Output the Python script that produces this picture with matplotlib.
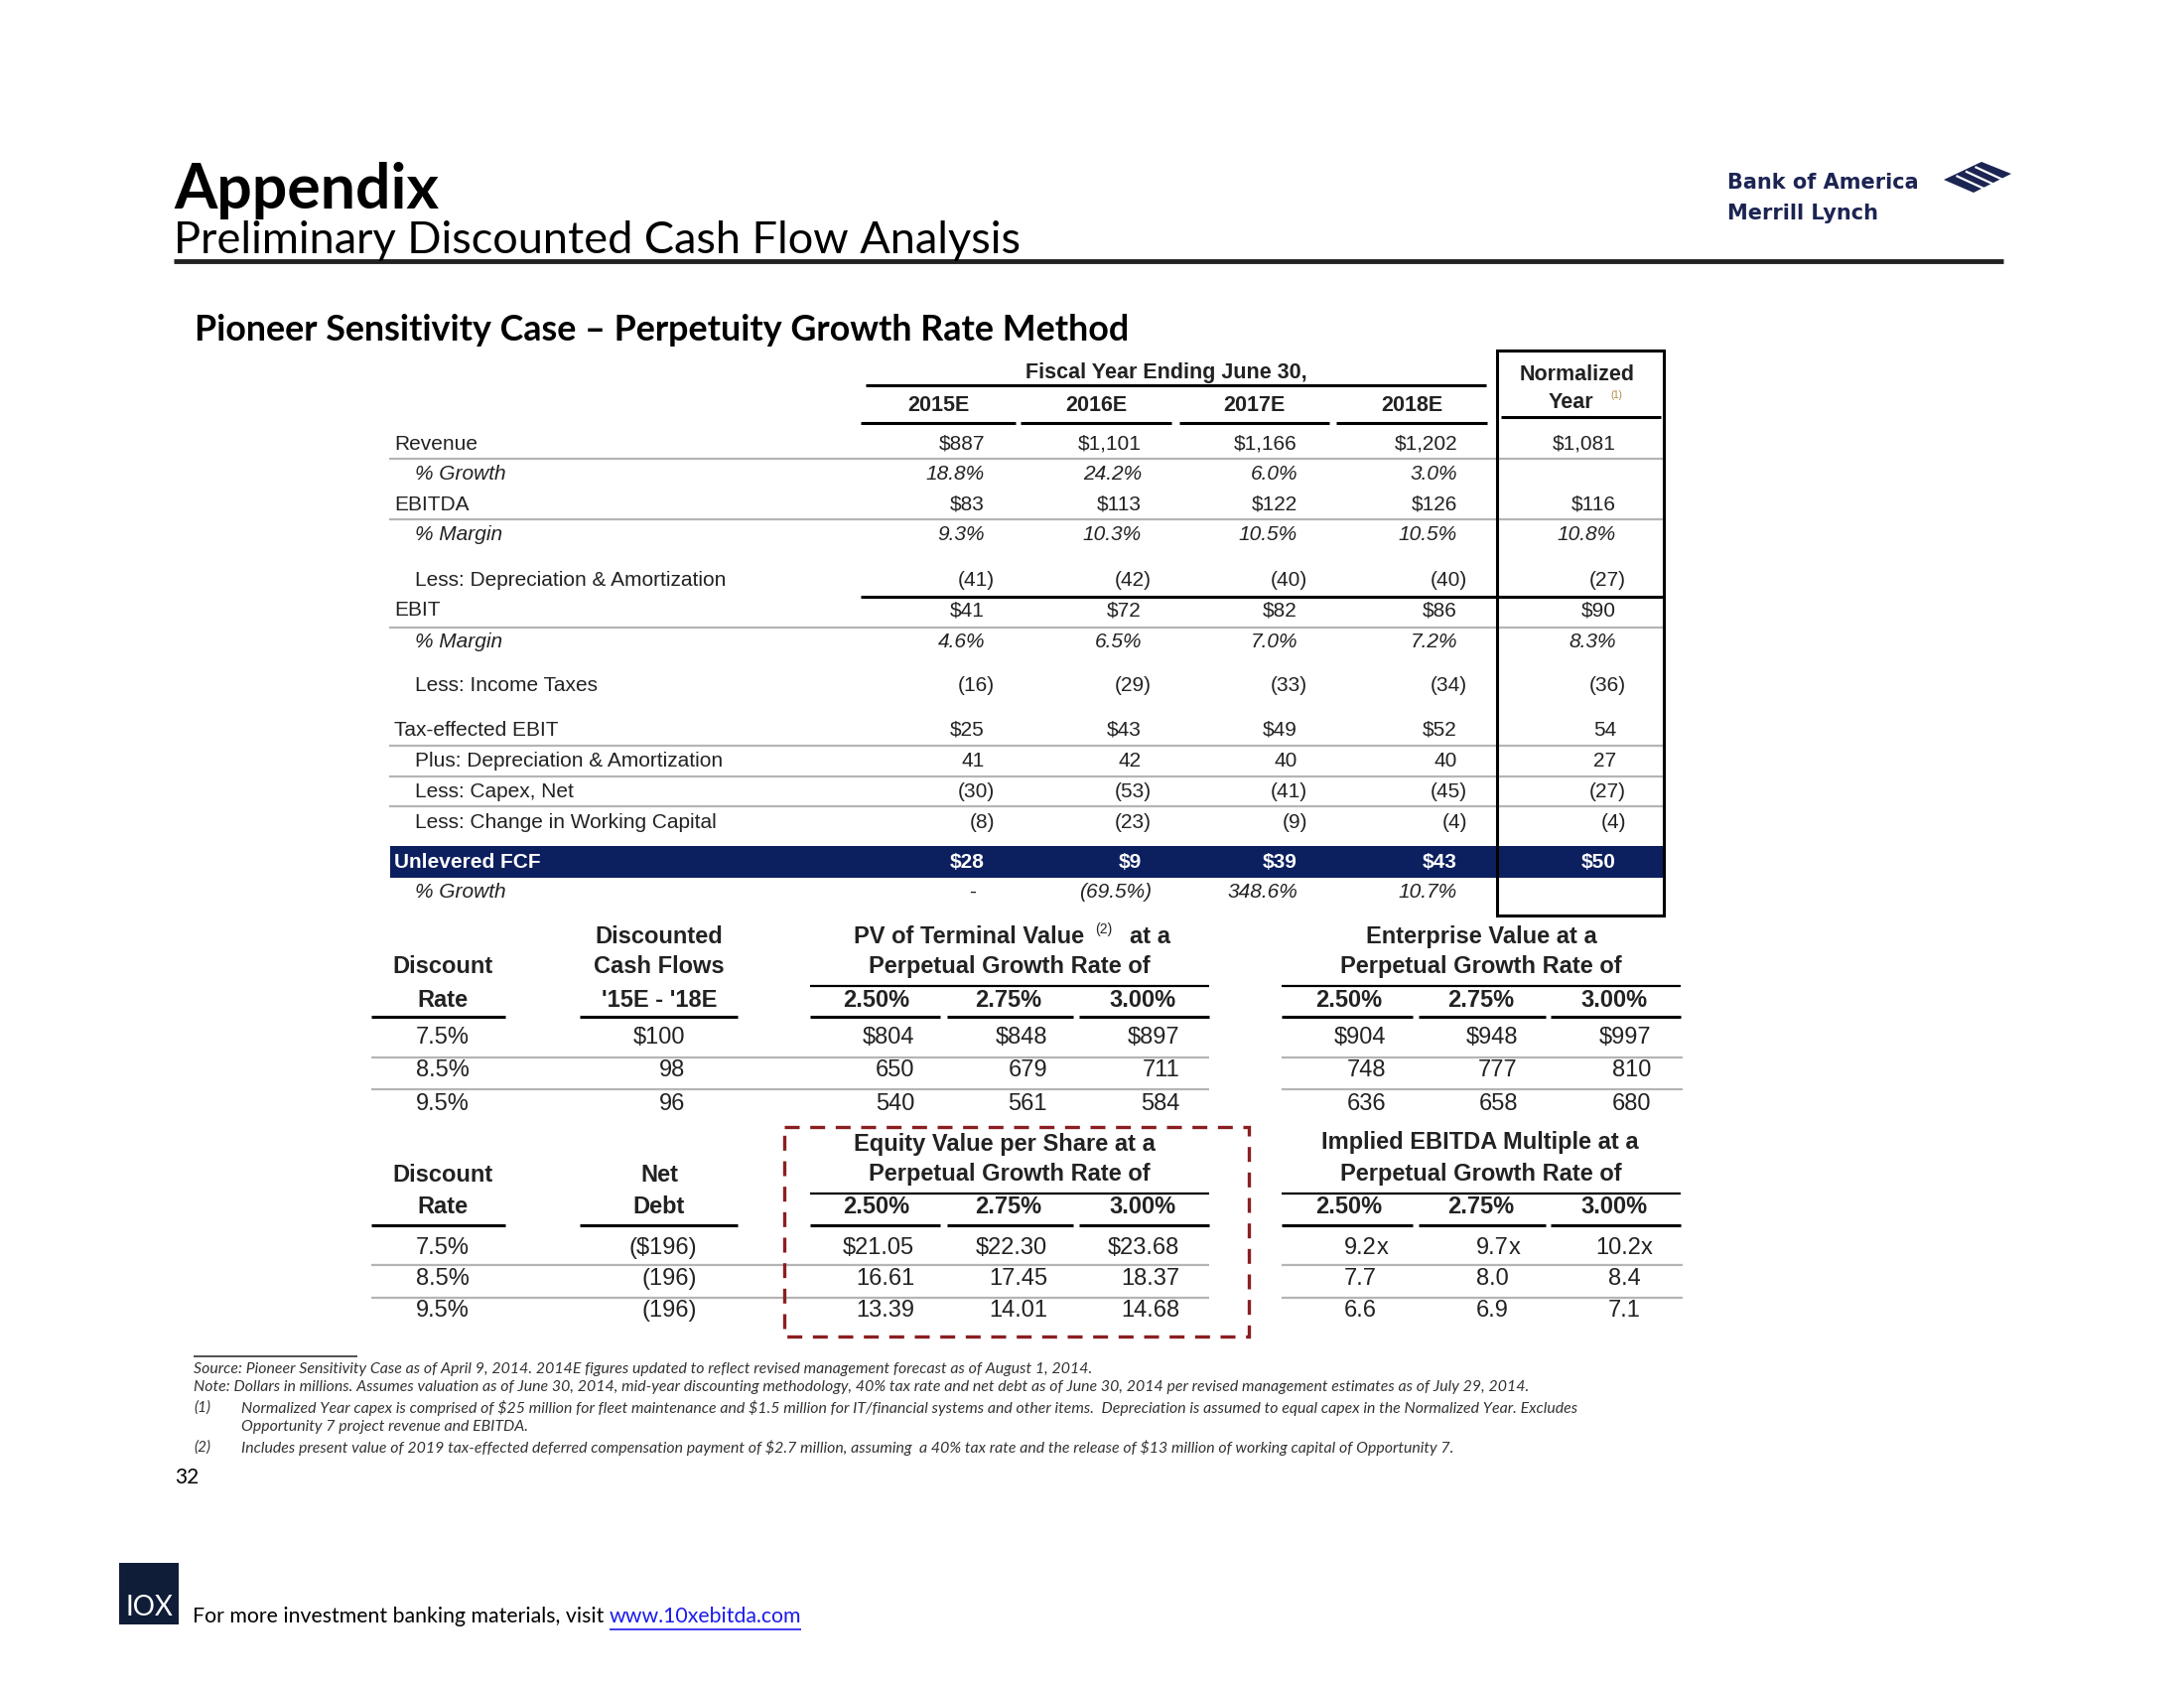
import matplotlib
matplotlib.use("Agg")
import matplotlib.pyplot as plt
from matplotlib.patches import Rectangle, Polygon

plt.rcParams["text.parse_math"] = False

# ---- data ----
years = ["2015E", "2016E", "2017E", "2018E"]
row_labels = ["Revenue", "% Growth", "EBITDA", "% Margin",
              "Less: Depreciation & Amortization", "EBIT", "% Margin",
              "Less: Income Taxes", "Tax-effected EBIT",
              "Plus: Depreciation & Amortization", "Less: Capex, Net",
              "Less: Change in Working Capital", "Unlevered FCF", "% Growth"]
fy2015 = ["$887", "18.8%", "$83", "9.3%", "(41)", "$41", "4.6%", "(16)",
          "$25", "41", "(30)", "(8)", "$28", "-"]
fy2016 = ["$1,101", "24.2%", "$113", "10.3%", "(42)", "$72", "6.5%", "(29)",
          "$43", "42", "(53)", "(23)", "$9", "(69.5%)"]
fy2017 = ["$1,166", "6.0%", "$122", "10.5%", "(40)", "$82", "7.0%", "(33)",
          "$49", "40", "(41)", "(9)", "$39", "348.6%"]
fy2018 = ["$1,202", "3.0%", "$126", "10.5%", "(40)", "$86", "7.2%", "(34)",
          "$52", "40", "(45)", "(4)", "$43", "10.7%"]
normalized = ["$1,081", "", "$116", "10.8%", "(27)", "$90", "8.3%", "(36)",
              "54", "27", "(27)", "(4)", "$50", ""]

discount_rates = ["7.5%", "8.5%", "9.5%"]
growth_rates = ["2.50%", "2.75%", "3.00%"]
dcf_15_18 = ["$100", "98", "96"]
net_debt = ["($196)", "(196)", "(196)"]
pv_terminal = [["$804", "$848", "$897"],
               ["650", "679", "711"],
               ["540", "561", "584"]]
equity_per_share = [["$21.05", "$22.30", "$23.68"],
                    ["16.61", "17.45", "18.37"],
                    ["13.39", "14.01", "14.68"]]
enterprise_value = [["$904", "$948", "$997"],
                    ["748", "777", "810"],
                    ["636", "658", "680"]]
ebitda_multiple = [["9.2x", "9.7x", "10.2x"],
                   ["7.7", "8.0", "8.4"],
                   ["6.6", "6.9", "7.1"]]

footnotes = [
    ("", "Source: Pioneer Sensitivity Case as of April 9, 2014. 2014E figures updated to reflect revised management forecast as of August 1, 2014."),
    ("", "Note: Dollars in millions. Assumes valuation as of June 30, 2014, mid-year discounting methodology, 40% tax rate and net debt as of June 30, 2014 per revised management estimates as of July 29, 2014."),
    ("(1)", "Normalized Year capex is comprised of $25 million for fleet maintenance and $1.5 million for IT/financial systems and other items.  Depreciation is assumed to equal capex in the Normalized Year. Excludes"),
    (" ", "Opportunity 7 project revenue and EBITDA."),
    ("(2)", "Includes present value of 2019 tax-effected deferred compensation payment of $2.7 million, assuming  a 40% tax rate and the release of $13 million of working capital of Opportunity 7."),
]

# ---- canvas in slide pixels ----
fig = plt.figure(figsize=(22, 17), dpi=100)
ax = fig.add_axes([0, 0, 1, 1])
ax.set_xlim(0, 2200)
ax.set_ylim(1700, 0)
ax.axis("off")

TF = "Liberation Sans"
TITLEF = "Lato"
INK = "#222222"
NAVY = "#0c1f5e"
BOFA = "#1c2453"


def hline(x0, x1, y, color="black", lw=2.2):
    ax.plot([x0, x1], [y, y], color=color, lw=lw, solid_capstyle="butt")


def num(x, y, s, size=15, **kw):
    # positive values sit one ")" to the left, like accounting format
    if s and not s.endswith(")"):
        x -= 10
    ax.text(x, y, s, ha="right", va="center", fontsize=size, family=TF,
            color=kw.pop("color", INK), **kw)


# ---- header ----
ax.text(175, 210, "Appendix", fontsize=45, family=TITLEF, weight="bold",
        va="baseline", color="black")
ax.text(175, 255, "Preliminary Discounted Cash Flow Analysis", fontsize=32.5,
        family=TITLEF, va="baseline", color="black")
hline(175, 2018, 263, color="#222222", lw=3.5)
ax.text(1740, 184, "Bank of America", fontsize=15, family="DejaVu Sans",
        weight="bold", va="center", color=BOFA)
ax.text(1740, 215, "Merrill Lynch", fontsize=15, family="DejaVu Sans",
        weight="bold", va="center", color=BOFA)
# flag mark: slanted rhombus cut by white stripes
ax.add_patch(Polygon([(1958, 181), (1996, 163), (2026, 175), (1988, 194)],
                     closed=True, color=BOFA, lw=0))
for k in range(1, 4):
    f = k / 4.0
    x0, y0 = 1958 + 38 * f, 181 - 18 * f
    ax.plot([x0 + 4, x0 + 30], [y0 + 1, y0 + 13], color="white", lw=1.6)

ax.text(196, 343, "Pioneer Sensitivity Case \u2013 Perpetuity Growth Rate Method",
        fontsize=25.8, family=TITLEF, weight="bold", va="baseline", color="black")

# ---- projection table ----
col_edge = [1002, 1160, 1317, 1478, 1638]
year_center = [945, 1104, 1263, 1422]
year_seg = [(867, 1023), (1028, 1180), (1188, 1339), (1346, 1498)]
row_y = [447, 477, 508, 538, 585, 615, 647, 690, 735, 766, 797, 828, 868, 898]

ax.text(1175, 375, "Fiscal Year Ending June 30,", fontsize=15.5, family=TF,
        weight="bold", ha="center", va="center", color=INK)
hline(872, 1497, 388)
for yr, xc, (a, b) in zip(years, year_center, year_seg):
    ax.text(xc, 408, yr, fontsize=15.5, family=TF, weight="bold",
            ha="center", va="center", color=INK)
    hline(a, b, 426)

ax.add_patch(Rectangle((1508, 353), 168, 569, fill=False, ec="black", lw=2.2, zorder=3))
ax.text(1589, 377, "Normalized", fontsize=15.5, family=TF, weight="bold",
        ha="center", va="center", color=INK)
ax.text(1582, 405, "Year", fontsize=15.5, family=TF, weight="bold",
        ha="center", va="center", color=INK)
ax.text(1622, 398, "(1)", fontsize=7, family=TF, ha="left", va="center",
        color="#b08a3c")
hline(1512, 1673, 420)

for y in [462, 523, 632, 751, 782, 812]:
    hline(392, 1676, y, color="#b5b5b5", lw=1.6)
hline(867, 1676, 601)
ax.add_patch(Rectangle((393, 852), 1283, 32, color=NAVY, lw=0))

cols = [fy2015, fy2016, fy2017, fy2018, normalized]
for i, (lab, y) in enumerate(zip(row_labels, row_y)):
    italic = lab.startswith("%")
    indent = lab.startswith(("%", "Less", "Plus"))
    fcf = lab == "Unlevered FCF"
    ax.text(418 if indent else 397, y, lab, fontsize=15, family=TF,
            style="italic" if italic else "normal",
            weight="bold" if fcf else "normal",
            color="white" if fcf else INK, va="center", ha="left")
    for c, edge in zip(cols, col_edge):
        s = c[i]
        if s == "-":
            ax.text(edge - 22, y, s, fontsize=15, family=TF, ha="center",
                    va="center", color=INK)
            continue
        num(edge, y, s, size=15, style="italic" if italic else "normal",
            weight="bold" if fcf else "normal",
            color="white" if fcf else INK)

# ---- sensitivity tables ----
HS = 17
VS = 17
disc_x = 446
g_centers = [883, 1016, 1151]
g_segs = [(816, 947), (954, 1081), (1087, 1218)]
g_edges = [921, 1055, 1188]
ev_centers = [1359, 1492, 1626]
ev_segs = [(1291, 1423), (1429, 1557), (1562, 1693)]
ev_edges = [1396, 1529, 1663]
mult_edges = [1387, 1520, 1653]


def head(x, y, s):
    ax.text(x, y, s, fontsize=HS, family=TF, weight="bold", ha="center",
            va="center", color=INK)


# upper block
head(disc_x, 973, "Discount")
head(disc_x, 1007, "Rate")
hline(374, 509, 1024)
head(664, 943, "Discounted")
head(664, 973, "Cash Flows")
head(664, 1007, "'15E - '18E")
hline(584, 743, 1024)
ax.text(1092, 943, "PV of Terminal Value", fontsize=HS, family=TF, weight="bold",
        ha="right", va="center", color=INK)
ax.text(1103, 936, "(2)", fontsize=10, family=TF, ha="left", va="center", color=INK)
ax.text(1138, 943, "at a", fontsize=HS, family=TF, weight="bold",
        ha="left", va="center", color=INK)
head(1017, 973, "Perpetual Growth Rate of")
hline(816, 1218, 993, lw=1.6)
for g, xc, (a, b) in zip(growth_rates, g_centers, g_segs):
    head(xc, 1007, g)
    hline(a, b, 1024)

head(1492, 943, "Enterprise Value at a")
head(1492, 973, "Perpetual Growth Rate of")
hline(1291, 1693, 993, lw=1.6)
for g, xc, (a, b) in zip(growth_rates, ev_centers, ev_segs):
    head(xc, 1007, g)
    hline(a, b, 1024)

top_rows = [1045, 1078, 1112]
for y in [1065, 1097]:
    hline(374, 1218, y, color="#b5b5b5", lw=1.6)
    hline(1291, 1695, y, color="#b5b5b5", lw=1.6)
for r, y in enumerate(top_rows):
    ax.text(disc_x, y, discount_rates[r], fontsize=VS, family=TF, ha="center",
            va="center", color=INK)
    ax.text(690, y, dcf_15_18[r], fontsize=VS, family=TF, ha="right",
            va="center", color=INK)
    for c in range(3):
        ax.text(g_edges[c], y, pv_terminal[r][c], fontsize=VS, family=TF,
                ha="right", va="center", color=INK)
        ax.text(ev_edges[c], y, enterprise_value[r][c], fontsize=VS, family=TF,
                ha="right", va="center", color=INK)

# lower block
head(disc_x, 1183, "Discount")
head(disc_x, 1215, "Rate")
hline(374, 509, 1234)
head(664, 1183, "Net")
head(664, 1215, "Debt")
hline(584, 743, 1234)
head(1012, 1152, "Equity Value per Share at a")
head(1017, 1183, "Perpetual Growth Rate of")
hline(816, 1218, 1202, lw=1.6)
for g, xc, (a, b) in zip(growth_rates, g_centers, g_segs):
    head(xc, 1215, g)
    hline(a, b, 1234)

head(1491, 1150, "Implied EBITDA Multiple at a")
head(1492, 1183, "Perpetual Growth Rate of")
hline(1291, 1693, 1202, lw=1.6)
for g, xc, (a, b) in zip(growth_rates, ev_centers, ev_segs):
    head(xc, 1215, g)
    hline(a, b, 1234)

bot_rows = [1257, 1288, 1320]
for y in [1274, 1307]:
    hline(374, 1218, y, color="#b5b5b5", lw=1.6)
    hline(1291, 1695, y, color="#b5b5b5", lw=1.6)
for r, y in enumerate(bot_rows):
    ax.text(disc_x, y, discount_rates[r], fontsize=VS, family=TF, ha="center",
            va="center", color=INK)
    ax.text(702, y, net_debt[r], fontsize=VS, family=TF, ha="right",
            va="center", color=INK)
    for c in range(3):
        ax.text(g_edges[c], y, equity_per_share[r][c], fontsize=VS, family=TF,
                ha="right", va="center", color=INK)
        m = ebitda_multiple[r][c]
        if m.endswith("x"):
            ax.text(mult_edges[c], y, m[:-1], fontsize=VS, family=TF,
                    ha="right", va="center", color=INK)
            ax.text(mult_edges[c], y, "x", fontsize=VS, family=TF,
                    ha="left", va="center", color=INK)
        else:
            ax.text(mult_edges[c], y, m, fontsize=VS, family=TF,
                    ha="right", va="center", color=INK)

ax.add_patch(Rectangle((790, 1135), 468, 211, fill=False, ec="#8b1e22", lw=2.4,
                       ls=(0, (4.5, 3.2)), zorder=4))

# ---- footnotes ----
hline(195, 360, 1366, color="#333333", lw=1.2)
fn_y = [1379, 1397, 1418, 1437, 1458]
for (tag, txt), y in zip(footnotes, fn_y):
    if tag.strip():
        ax.text(195, y, tag, fontsize=11.2, family=TITLEF, style="italic",
                va="center", color="#333333")
    x = 243 if tag else 195
    ax.text(x, y, txt, fontsize=11.4, family=TITLEF, style="italic",
            va="center", color="#333333")
ax.text(176, 1488, "32", fontsize=15, family=TITLEF, va="center", color="black")

# ---- footer ----
ax.add_patch(Rectangle((120, 1574), 60, 62, color="#101d38", lw=0))
ax.text(150, 1619, "IOX", fontsize=20, family=TITLEF, ha="center",
        va="center", color="white")
t = ax.text(194, 1628, "For more investment banking materials, visit ",
            fontsize=15.3, family=TITLEF, va="center", color="black")
fig.canvas.draw()
bb = t.get_window_extent()
link = ax.text(bb.x1, 1628, "www.10xebitda.com", fontsize=15.3, family=TITLEF,
               va="center", color="#1a1aee")
fig.canvas.draw()
lb = link.get_window_extent()
hline(lb.x0, lb.x1, 1641, color="#1a1aee", lw=1.2)

fig.savefig("out.png", dpi=100, facecolor="white")
